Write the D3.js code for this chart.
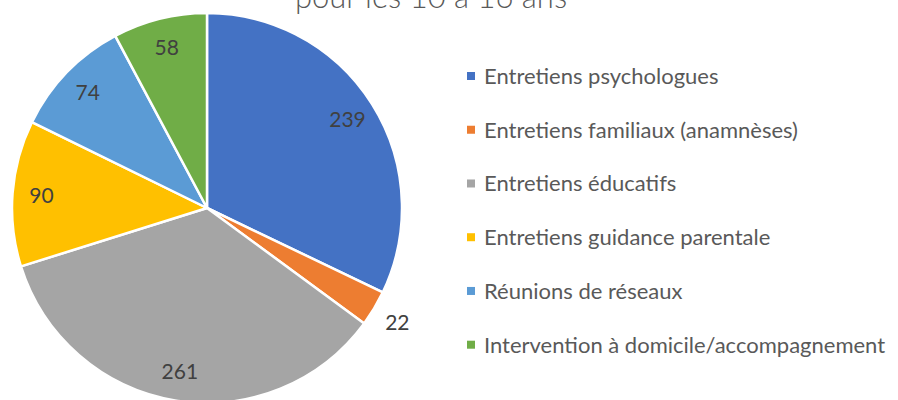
<!DOCTYPE html>
<html>
<head>
<meta charset="utf-8">
<script src="https://cdn.jsdelivr.net/npm/d3@7"></script>
<style>
  html, body { margin: 0; padding: 0; background: #fff; }
  svg { display: block; }
</style>
</head>
<body>
<div id="chart"></div>
<script>
// Data
const categories = [
  "Entretiens psychologues",
  "Entretiens familiaux (anamnèses)",
  "Entretiens éducatifs",
  "Entretiens guidance parentale",
  "Réunions de réseaux",
  "Intervention à domicile/accompagnement"
];
const values = [239, 22, 261, 90, 74, 58];
const colours = ["#4472C4", "#ED7D31", "#A5A5A5", "#FFC000", "#5B9BD5", "#70AD47"];
const titleText = "pour les 10 à 16 ans";

function drawPie() {
  const width = 898;
  const height = 400;
  const cx = 207, cy = 208, radius = 195;

  const data = categories.map((c, i) => ({ name: c, value: values[i], colour: colours[i] }));
  const total = d3.sum(values);

  const svg = d3.select("#chart")
    .append("svg")
    .attr("width", width)
    .attr("height", height);

  // Title (its upper part runs off the top, as in the original)
  svg.append("text")
    .attr("x", 431)
    .attr("y", 8)
    .attr("text-anchor", "middle")
    .style("font-family", "Lato, 'Open Sans', sans-serif")
    .style("font-weight", 300)
    .style("font-size", "31px")
    .style("fill", "#595959")
    .text(titleText);

  const pie = d3.pie()
    .value(d => d.value)
    .sort(null);

  const arc = d3.arc()
    .innerRadius(0)
    .outerRadius(radius);

  const labelArc = d3.arc().innerRadius(166).outerRadius(166);
  const outerLabelArc = d3.arc().innerRadius(222).outerRadius(222);

  const g = svg.append("g")
    .attr("transform", `translate(${cx}, ${cy})`);

  const arcs = pie(data);

  g.selectAll("path")
    .data(arcs)
    .enter()
    .append("path")
    .attr("d", arc)
    .attr("fill", d => d.data.colour)
    .attr("stroke", "#fff")
    .attr("stroke-width", 2.5)
    .attr("stroke-linejoin", "round");

  // small slices get their label outside the pie
  g.selectAll("text.label")
    .data(arcs)
    .enter()
    .append("text")
    .attr("class", "label")
    .attr("transform", d => {
      const p = (d.data.value / total < 0.05 ? outerLabelArc : labelArc).centroid(d);
      return `translate(${p[0]}, ${p[1]})`;
    })
    .attr("text-anchor", "middle")
    .attr("dy", "0.36em")
    .style("font-family", "Lato, 'Open Sans', sans-serif")
    .style("font-size", "21px")
    .style("fill", "#404040")
    .text(d => d.data.value);

  // Legend
  const ly = d3.scalePoint()
    .domain(categories)
    .range([76, 344.7]);

  const legend = svg.append("g")
    .selectAll("g")
    .data(data)
    .enter()
    .append("g")
    .attr("transform", d => `translate(467, ${ly(d.name)})`);

  legend.append("rect")
    .attr("x", 0)
    .attr("y", -4)
    .attr("width", 8)
    .attr("height", 8)
    .attr("fill", d => d.colour);

  legend.append("text")
    .attr("x", 17)
    .attr("dy", "0.36em")
    .style("font-family", "Lato, 'Open Sans', sans-serif")
    .style("font-size", "22px")
    .style("fill", "#595959")
    .text(d => d.name);
}

drawPie();
</script>
</body>
</html>
